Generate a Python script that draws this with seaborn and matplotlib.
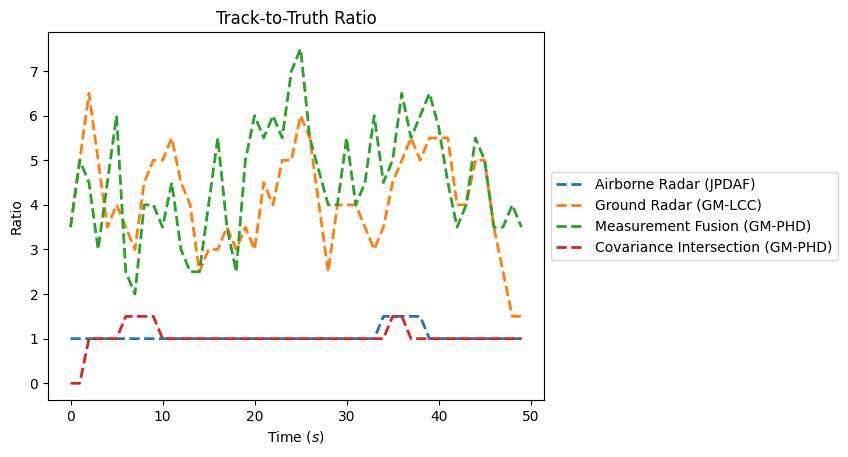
import numpy as np
import pandas as pd
import matplotlib
matplotlib.use("Agg")
import matplotlib.pyplot as plt
import seaborn as sns

# time steps (s)
time = list(range(50))

airborne_jpdaf = [1.0, 1.0, 1.0, 1.0, 1.0, 1.0, 1.0, 1.0, 1.0, 1.0,
                  1.0, 1.0, 1.0, 1.0, 1.0, 1.0, 1.0, 1.0, 1.0, 1.0,
                  1.0, 1.0, 1.0, 1.0, 1.0, 1.0, 1.0, 1.0, 1.0, 1.0,
                  1.0, 1.0, 1.0, 1.0, 1.5, 1.5, 1.5, 1.5, 1.5, 1.0,
                  1.0, 1.0, 1.0, 1.0, 1.0, 1.0, 1.0, 1.0, 1.0, 1.0]

ground_gmlcc = [3.5, 5.0, 6.5, 5.0, 3.5, 4.0, 3.5, 3.0, 4.5, 5.0,
                5.0, 5.5, 4.5, 4.0, 2.5, 3.0, 3.0, 3.5, 3.0, 3.5,
                3.0, 4.5, 4.0, 5.0, 5.0, 6.0, 5.5, 4.0, 2.5, 4.0,
                4.0, 4.0, 3.5, 3.0, 3.5, 4.5, 5.0, 5.5, 5.0, 5.5,
                5.5, 5.5, 4.0, 4.0, 5.0, 5.0, 3.5, 2.5, 1.5, 1.5]

fusion_gmphd = [3.5, 5.0, 4.5, 3.0, 4.5, 6.0, 2.5, 2.0, 4.0, 4.0,
                3.5, 4.5, 3.0, 2.5, 2.5, 4.0, 5.5, 3.5, 2.5, 5.0,
                6.0, 5.5, 6.0, 5.5, 7.0, 7.5, 5.5, 4.75, 4.0, 4.0,
                5.5, 4.0, 4.5, 6.0, 4.5, 5.0, 6.5, 5.5, 6.0, 6.5,
                5.75, 4.5, 3.5, 4.0, 5.5, 5.0, 3.5, 3.5, 4.0, 3.5]

ci_gmphd = [0.0, 0.0, 1.0, 1.0, 1.0, 1.0, 1.5, 1.5, 1.5, 1.5,
            1.0, 1.0, 1.0, 1.0, 1.0, 1.0, 1.0, 1.0, 1.0, 1.0,
            1.0, 1.0, 1.0, 1.0, 1.0, 1.0, 1.0, 1.0, 1.0, 1.0,
            1.0, 1.0, 1.0, 1.0, 1.0, 1.5, 1.5, 1.0, 1.0, 1.0,
            1.0, 1.0, 1.0, 1.0, 1.0, 1.0, 1.0, 1.0, 1.0, 1.0]

labels = ["Airborne Radar (JPDAF)", "Ground Radar (GM-LCC)",
          "Measurement Fusion (GM-PHD)", "Covariance Intersection (GM-PHD)"]
series = [airborne_jpdaf, ground_gmlcc, fusion_gmphd, ci_gmphd]
colors = ["#1f77b4", "#ff7f0e", "#2ca02c", "#d62728"]

fig, ax = plt.subplots(figsize=(8.48, 4.57), dpi=100)
fig.subplots_adjust(left=0.0566, right=0.6415, top=0.93, bottom=0.1247)

for vals, lab, col in zip(series, labels, colors):
    df = pd.DataFrame({"time": time, "ratio": vals})
    sns.lineplot(data=df, x="time", y="ratio", ax=ax, color=col,
                 linestyle="--", linewidth=2, label=lab)

ax.set_title("Track-to-Truth Ratio")
ax.set_xlabel("Time ($s$)")
ax.set_ylabel("Ratio")
ax.legend(loc="center left", bbox_to_anchor=(1.0, 0.5))

fig.savefig("out.png", dpi=100)
